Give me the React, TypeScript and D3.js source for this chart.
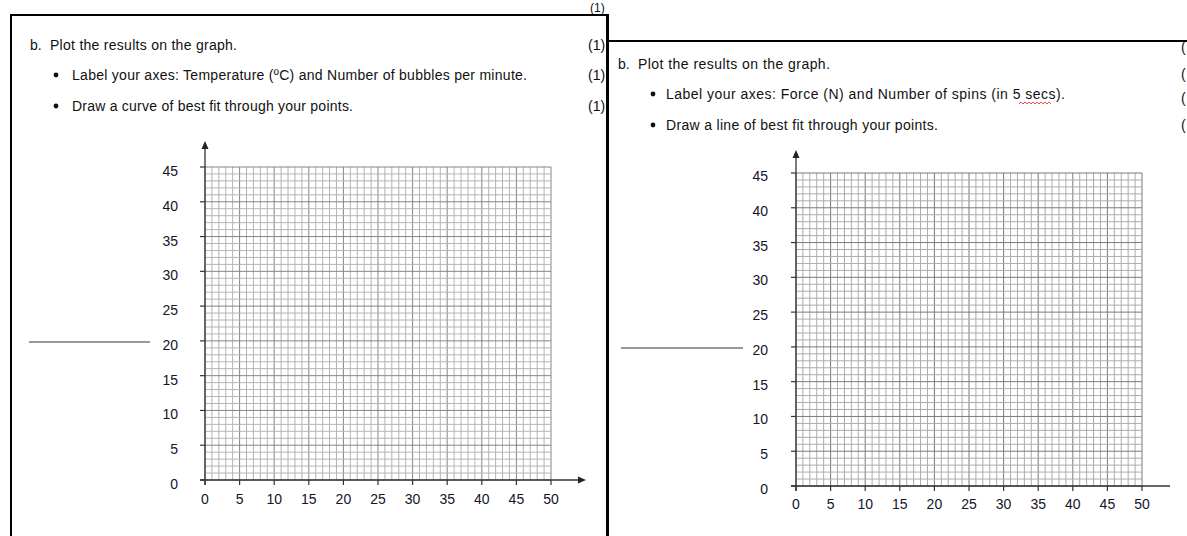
import React from "react";
import * as d3 from "d3";

// ---- data ----
const yTickLabels = [0, 5, 10, 15, 20, 25, 30, 35, 40, 45];
const xTickLabels = [0, 5, 10, 15, 20, 25, 30, 35, 40, 45, 50];
const leftTitle = "Plot the results on the graph.";
const leftBullets = [
  "Label your axes: Temperature (ºC) and Number of bubbles per minute.",
  "Draw a curve of best fit through your points.",
];
const rightTitle = "Plot the results on the graph.";
const rightBullets = [
  "Label your axes: Force (N) and Number of spins (in 5 secs).",
  "Draw a line of best fit through your points.",
];
const marks = ["(1)", "(1)", "(1)"];

const FONT = "'Liberation Sans', Arial, sans-serif";

type GridProps = {
  x0: number; x1: number; yTop: number; yBottom: number;
  arrowTop: number; xEnd: number; xArrow: boolean;
  yLabelEnd: number; yLabelDy: number; xLabelBase: number;
  minor: string; major: string;
};

function Grid(p: GridProps) {
  const x = d3.scaleLinear().domain([0, 50]).range([p.x0, p.x1]);
  const y = d3.scaleLinear().domain([0, 45]).range([p.yBottom, p.yTop]);
  const xs = x.ticks(50);
  const ys = y.ticks(45);
  return (
    <g>
      <rect x={p.x0} y={p.yTop} width={p.x1 - p.x0} height={p.yBottom - p.yTop} fill="#fff" />
      {xs.map((v) => (
        <line key={"vx" + v} x1={x(v)} x2={x(v)} y1={p.yTop} y2={p.yBottom}
          stroke={v % 5 === 0 ? p.major : p.minor} strokeWidth={1} />
      ))}
      {ys.map((v) => (
        <line key={"hy" + v} y1={y(v)} y2={y(v)} x1={p.x0} x2={p.x1}
          stroke={v % 5 === 0 ? p.major : p.minor} strokeWidth={1} />
      ))}
      {/* axes */}
      <line x1={p.x0} x2={p.x0} y1={p.yBottom + 5} y2={p.arrowTop + 6} stroke="#333" strokeWidth={1.3} />
      <path d={`M${p.x0},${p.arrowTop} L${p.x0 - 3.5},${p.arrowTop + 8} L${p.x0 + 3.5},${p.arrowTop + 8} Z`} fill="#222" />
      <line x1={p.x0 - 5} x2={p.xEnd - (p.xArrow ? 6 : 0)} y1={p.yBottom} y2={p.yBottom} stroke="#333" strokeWidth={1.3} />
      {p.xArrow && (
        <path d={`M${p.xEnd},${p.yBottom} L${p.xEnd - 8},${p.yBottom - 3.5} L${p.xEnd - 8},${p.yBottom + 3.5} Z`} fill="#222" />
      )}
      {yTickLabels.map((v) => (
        <g key={"yt" + v}>
          <line x1={p.x0 - 5} x2={p.x0} y1={y(v)} y2={y(v)} stroke="#333" strokeWidth={1.2} />
          <text x={p.yLabelEnd} y={y(v) + p.yLabelDy} textAnchor="end" fontFamily={FONT} fontSize={14} fill="#14142a">{v}</text>
        </g>
      ))}
      {xTickLabels.map((v) => (
        <g key={"xt" + v}>
          <line x1={x(v)} x2={x(v)} y1={p.yBottom} y2={p.yBottom + 5} stroke="#333" strokeWidth={1.2} />
          <text x={x(v)} y={p.xLabelBase} textAnchor="middle" fontFamily={FONT} fontSize={14} fill="#14142a">{v}</text>
        </g>
      ))}
    </g>
  );
}

export default function App() {
  const txt = { fontFamily: FONT, fontSize: 14, fill: "#111" } as const;
  return (
    <svg width={1187} height={536} style={{ position: "absolute", left: 0, top: 0, background: "#fff" }}>
      <rect width={1187} height={536} fill="#fff" />
      {/* borders */}
      <line x1={10} x2={607} y1={15} y2={15} stroke="#000" strokeWidth={2} />
      <line x1={11} x2={11} y1={14} y2={536} stroke="#000" strokeWidth={2} />
      <line x1={607.5} x2={607.5} y1={14} y2={536} stroke="#000" strokeWidth={3} />
      <line x1={606} x2={1187} y1={41} y2={41} stroke="#000" strokeWidth={2} />

      {/* left text */}
      <text x={590} y={12} {...txt} fontSize={12}>(1)</text>
      <text x={30} y={50} {...txt}>b.</text>
      <text x={50} y={50} {...txt} textLength={187} lengthAdjust="spacing">{leftTitle}</text>
      <text x={588} y={50} {...txt}>{marks[0]}</text>
      <circle cx={56} cy={75} r={2.4} fill="#111" />
      <text x={72} y={80} {...txt} textLength={455} lengthAdjust="spacing">{leftBullets[0]}</text>
      <text x={588} y={80} {...txt}>{marks[1]}</text>
      <circle cx={56} cy={106} r={2.4} fill="#111" />
      <text x={72} y={111} {...txt} textLength={281} lengthAdjust="spacing">{leftBullets[1]}</text>
      <text x={588} y={111} {...txt}>{marks[2]}</text>
      <line x1={29} x2={150} y1={342} y2={342} stroke="#333" strokeWidth={1.2} />

      {/* right text */}
      <text x={618} y={69} {...txt}>b.</text>
      <text x={638} y={69} {...txt} textLength={192} lengthAdjust="spacing">{rightTitle}</text>
      <circle cx={653} cy={94} r={2.4} fill="#111" />
      <text x={666} y={99} {...txt} textLength={399} lengthAdjust="spacing">{rightBullets[0]}</text>
      <path d="M1019,104 l2,-2 l2,2 l2,-2 l2,2 l2,-2 l2,2 l2,-2 l2,2 l2,-2 l2,2 l2,-2 l2,2 l2,-2 l2,2 l2,-2 l2,2" fill="none" stroke="#e02020" strokeWidth={0.8} />
      <circle cx={653} cy={125} r={2.4} fill="#111" />
      <text x={666} y={130} {...txt} textLength={272} lengthAdjust="spacing">{rightBullets[1]}</text>
      {[52, 79, 103, 130].map((yy) => (
        <text key={yy} x={1181} y={yy} {...txt}>(</text>
      ))}
      <line x1={621} x2={743} y1={348} y2={348} stroke="#333" strokeWidth={1.2} />

      <Grid x0={205} x1={551} yTop={167} yBottom={480} arrowTop={141} xEnd={586} xArrow={true}
        yLabelEnd={178} yLabelDy={9} xLabelBase={504} minor="#b4b4b4" major="#858585" />
      <Grid x0={796} x1={1142} yTop={173} yBottom={486} arrowTop={150} xEnd={1170} xArrow={false}
        yLabelEnd={768} yLabelDy={8} xLabelBase={509} minor="#acacac" major="#7a7a7a" />
    </svg>
  );
}
